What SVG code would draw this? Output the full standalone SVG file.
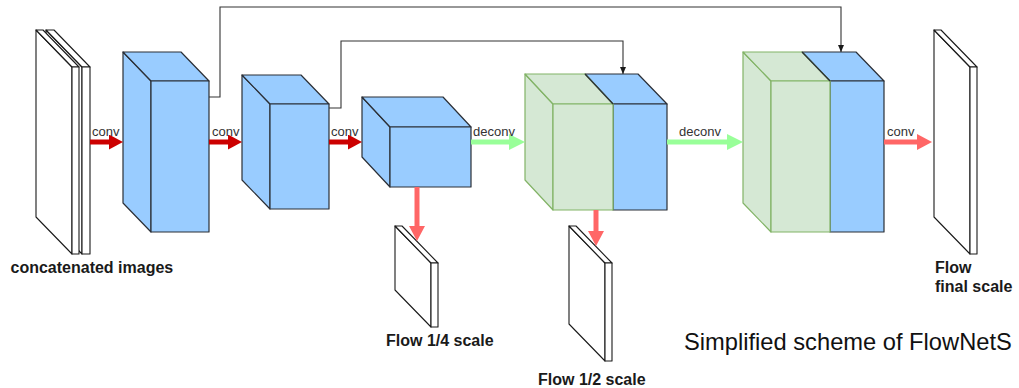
<svg xmlns="http://www.w3.org/2000/svg" width="1019" height="388" viewBox="0 0 1019 388">
  <style>
    .blue { fill: #99ccff; stroke: #2b2f36; stroke-width: 1.2; stroke-linejoin: round; }
    .green { fill: #d5e8d4; stroke: #82b366; stroke-width: 1.2; stroke-linejoin: round; }
    .edge { fill: none; stroke: #2b2f36; stroke-width: 1.2; }
    .plane { fill: #ffffff; stroke: #1a1a1a; stroke-width: 1.1; stroke-linejoin: round; }
    .skip { fill: none; stroke: #333333; stroke-width: 1.1; }
    .thick { fill: none; stroke-width: 5; }
    .op { font-family: "Liberation Sans", Arial, sans-serif; font-size: 13px; fill: #333333; }
    .cap { font-family: "Liberation Sans", Arial, sans-serif; font-size: 16px; font-weight: bold; fill: #1a1a1a; }
    .title { font-family: "Liberation Sans", Arial, sans-serif; font-size: 23.7px; fill: #111111; }
  </style>
  <defs>
    <marker id="headDark" viewBox="0 0 14 15" refX="4" refY="7.5" markerWidth="14" markerHeight="15" markerUnits="userSpaceOnUse" orient="auto">
      <path d="M0,0 L14,7.5 L0,15 Z" fill="#cc0000"/>
    </marker>
    <marker id="headLight" viewBox="0 0 15 16" refX="4" refY="8" markerWidth="15" markerHeight="16" markerUnits="userSpaceOnUse" orient="auto">
      <path d="M0,0 L15,8 L0,16 Z" fill="#ff6666"/>
    </marker>
    <marker id="headGreen" viewBox="0 0 16 16" refX="5" refY="8" markerWidth="16" markerHeight="16" markerUnits="userSpaceOnUse" orient="auto">
      <path d="M0,0 L16,8 L0,16 Z" fill="#99ff99"/>
    </marker>
    <marker id="headSkip" viewBox="0 0 7 6" refX="7" refY="3" markerWidth="7" markerHeight="6" markerUnits="userSpaceOnUse" orient="auto">
      <path d="M0,0 L7,3 L0,6 Z" fill="#1a1a1a"/>
    </marker>
  </defs>

  <rect width="1019" height="388" fill="#ffffff"/>

  <!-- input: two stacked image planes -->
  <g id="input-images">
    <polygon class="plane" points="46,30 82,67 82,254 46,217"/>
    <polygon class="plane" points="46,30 54,30 90,67 82,67"/>
    <rect class="plane" x="82" y="67" width="8" height="187"/>
    <polygon class="plane" points="36,30 72,67 72,254 36,217"/>
    <polygon class="plane" points="36,30 43,30 79,67 72,67"/>
    <rect class="plane" x="72" y="67" width="7" height="187"/>
    <text class="cap" x="10.5" y="272.5">concatenated images</text>
  </g>

  <!-- encoder blocks -->
  <g id="enc1">
    <polygon class="blue" points="123,52 151,81 151,232 123,203"/>
    <polygon class="blue" points="123,52 181,52 209,81 151,81"/>
    <rect class="blue" x="151" y="81" width="58" height="151"/>
  </g>
  <g id="enc2">
    <polygon class="blue" points="242,75 270,104 270,209 242,180"/>
    <polygon class="blue" points="242,75 301,75 329,104 270,104"/>
    <rect class="blue" x="270" y="104" width="59" height="105"/>
  </g>
  <g id="enc3">
    <polygon class="blue" points="362,97 390,127 390,187 362,157"/>
    <polygon class="blue" points="362,97 443,97 471,127 390,127"/>
    <rect class="blue" x="390" y="127" width="81" height="60"/>
  </g>

  <!-- decoder blocks: upsampled part (green) + skip features (blue) -->
  <g id="dec1">
    <polygon class="blue" points="585,74 638,74 667,104 613,104"/>
    <rect class="blue" x="613" y="104" width="54" height="106"/>
    <polygon class="green" points="525,74 553,104 553,210 525,180"/>
    <polygon class="green" points="525,74 585,74 613,104 553,104"/>
    <rect class="green" x="553" y="104" width="60" height="106"/>
    <line class="edge" x1="585" y1="74" x2="613" y2="104"/>
  </g>
  <g id="dec2">
    <polygon class="blue" points="802,52 856,52 884,81 830,81"/>
    <rect class="blue" x="830" y="81" width="54" height="151"/>
    <polygon class="green" points="743,52 771,81 771,232 743,203"/>
    <polygon class="green" points="743,52 802,52 830,81 771,81"/>
    <rect class="green" x="771" y="81" width="59" height="151"/>
    <line class="edge" x1="802" y1="52" x2="830" y2="81"/>
  </g>

  <!-- flow outputs -->
  <g id="flow-quarter">
    <polygon class="plane" points="395,226 431,263 431,327 395,290"/>
    <polygon class="plane" points="395,226 402,226 438,263 431,263"/>
    <rect class="plane" x="431" y="263" width="7" height="64"/>
    <text class="cap" x="386" y="346">Flow 1/4 scale</text>
  </g>
  <g id="flow-half">
    <polygon class="plane" points="569,226 605,263 605,361 569,324"/>
    <polygon class="plane" points="569,226 576,226 612,263 605,263"/>
    <rect class="plane" x="605" y="263" width="7" height="98"/>
    <text class="cap" x="538" y="385">Flow 1/2 scale</text>
  </g>
  <g id="flow-final">
    <polygon class="plane" points="934,30 970,67 970,254 934,217"/>
    <polygon class="plane" points="934,30 941,30 977,67 970,67"/>
    <rect class="plane" x="970" y="67" width="7" height="187"/>
    <text class="cap" x="935" y="273">Flow</text>
    <text class="cap" x="935" y="292">final scale</text>
  </g>

  <!-- connectors -->
  <g id="connectors">
    <polyline class="skip" points="209,97 220,97 220,7 841,7 841,52" marker-end="url(#headSkip)"/>
    <polyline class="skip" points="329,108 341,108 341,41 623,41 623,74" marker-end="url(#headSkip)"/>

    <line class="thick" stroke="#cc0000" x1="90" y1="142" x2="113" y2="142" marker-end="url(#headDark)"/>
    <line class="thick" stroke="#cc0000" x1="209" y1="142" x2="232" y2="142" marker-end="url(#headDark)"/>
    <line class="thick" stroke="#cc0000" x1="329" y1="142" x2="352" y2="142" marker-end="url(#headDark)"/>
    <line class="thick" stroke="#99ff99" x1="471" y1="142" x2="514" y2="142" marker-end="url(#headGreen)"/>
    <line class="thick" stroke="#99ff99" x1="667" y1="142" x2="732" y2="142" marker-end="url(#headGreen)"/>
    <line class="thick" stroke="#ff6666" x1="884" y1="142" x2="921" y2="142" marker-end="url(#headLight)"/>
    <line class="thick" stroke="#ff6666" x1="417" y1="187" x2="417" y2="230" marker-end="url(#headLight)"/>
    <line class="thick" stroke="#ff6666" x1="596" y1="210" x2="596" y2="235" marker-end="url(#headLight)"/>

    <text class="op" x="92" y="135.5">conv</text>
    <text class="op" x="212" y="135.5">conv</text>
    <text class="op" x="331" y="135.5">conv</text>
    <text class="op" x="473" y="135.5">deconv</text>
    <text class="op" x="679" y="135.5">deconv</text>
    <text class="op" x="887" y="135.5">conv</text>
  </g>

  <text class="title" x="684" y="350">Simplified scheme of FlowNetS</text>
</svg>
